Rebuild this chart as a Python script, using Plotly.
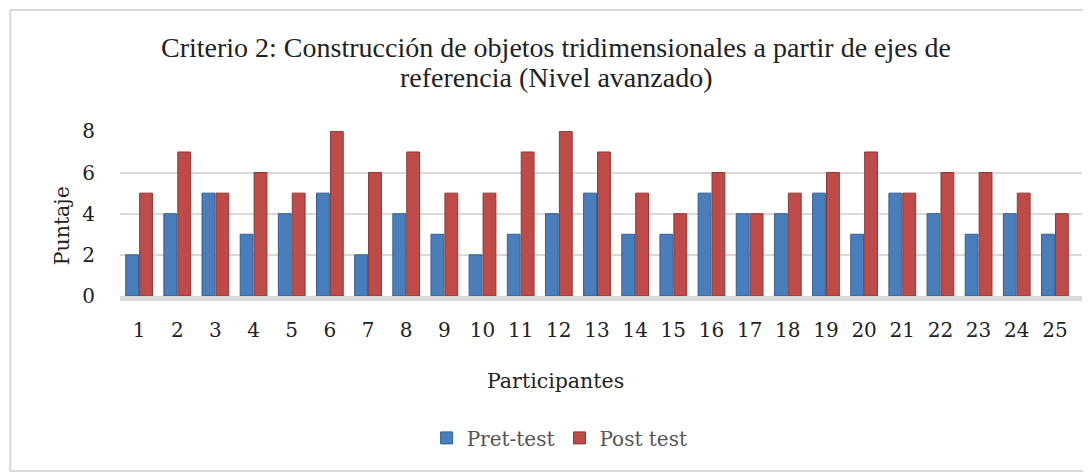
import plotly.graph_objects as go

participantes = [str(i) for i in range(1, 26)]
pre_test = [2, 4, 5, 3, 4, 5, 2, 4, 3, 2, 3, 4, 5, 3, 3, 5, 4, 4, 5, 3, 5, 4, 3, 4, 3]
post_test = [5, 7, 5, 6, 5, 8, 6, 7, 5, 5, 7, 8, 7, 5, 4, 6, 4, 5, 6, 7, 5, 6, 6, 5, 4]
y_ticks = [0, 2, 4, 6, 8]
titulo = ["Criterio 2: Construcción de objetos tridimensionales a partir de ejes de",
          "referencia (Nivel avanzado)"]

times = "Liberation Serif"
cambria = "DejaVu Serif"

fig = go.Figure()
fig.add_trace(go.Bar(x=participantes, y=pre_test, name="Pret-test",
                     marker=dict(color="#4A7EBB", line=dict(color="#335F94", width=1))))
fig.add_trace(go.Bar(x=participantes, y=post_test, name="Post test",
                     marker=dict(color="#BE4B48", line=dict(color="#8C3836", width=1))))

# the page body adds an 8px margin, so the figure is 8px smaller than the window
fig.update_layout(
    width=1083, height=464,
    margin=dict(l=112, r=9, t=123, b=176),
    paper_bgcolor="white", plot_bgcolor="white",
    barmode="group", bargap=0.27, bargroupgap=0.08,
    font=dict(family=cambria, size=20, color="#222"),
    xaxis=dict(range=[-0.5, 24.71], showgrid=False, showline=True, linecolor="#d9d9d9",
               linewidth=5, ticks="", tickfont=dict(size=20), ticklabelstandoff=12),
    yaxis=dict(range=[0, 8.02], tickvals=y_ticks, showgrid=True, gridcolor="#d9d9d9",
               gridwidth=2, zeroline=False, showline=False, ticks="",
               tickfont=dict(size=20), ticklabelstandoff=24),
    legend=dict(orientation="h", x=0.457, xanchor="center", y=-0.86, yanchor="middle",
                font=dict(size=20, color="#555"), traceorder="normal"),
    annotations=[
        dict(text=titulo[0], xref="paper", yref="paper", x=0.453, y=1.509,
             xanchor="center", yanchor="middle", showarrow=False,
             font=dict(family=times, size=28, color="#222")),
        dict(text=titulo[1], xref="paper", yref="paper", x=0.453, y=1.327,
             xanchor="center", yanchor="middle", showarrow=False,
             font=dict(family=times, size=28, color="#222")),
        dict(text="Participantes", xref="paper", yref="paper", x=0.453, y=-0.515,
             xanchor="center", yanchor="middle", showarrow=False,
             font=dict(size=20.5, color="#222")),
        dict(text="Puntaje", xref="paper", yref="paper", x=-0.060, y=0.424, textangle=-90,
             xanchor="center", yanchor="middle", showarrow=False,
             font=dict(size=20.5, color="#222")),
    ],
    shapes=[dict(type="rect", xref="paper", yref="paper", x0=-0.114, x1=1.005,
                 y0=-1.06, y1=1.733, line=dict(color="#d9d9d9", width=2))],
)

fig.write_html("out.html")
